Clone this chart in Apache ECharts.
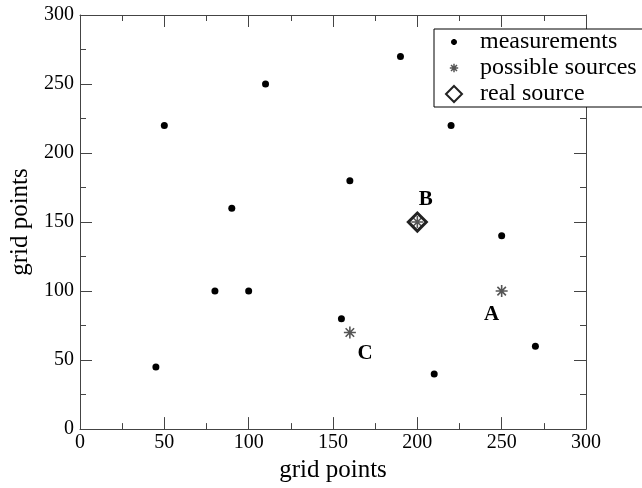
<!DOCTYPE html>
<html>
<head>
<meta charset="utf-8">
<script src="https://cdn.jsdelivr.net/npm/echarts@6/dist/echarts.min.js"></script>
<style>html,body{margin:0;padding:0;background:#fff}#c{width:642px;height:488px}</style>
</head>
<body>
<div id="c"></div>
<script>
// ---- data ----
const measX = [45, 50, 80, 90, 100, 110, 155, 160, 190, 210, 220, 250, 270];
const measY = [45, 220, 100, 160, 100, 250, 80, 180, 270, 40, 220, 140, 60];
const srcX = [250, 160, 200];
const srcY = [100, 70, 150];
const realX = [200];
const realY = [150];
const labelNames = ['A', 'B', 'C'];
const labelX = [244, 205, 169];
const labelY = [83, 166, 55];
const seriesNames = ['measurements', 'possible sources', 'real source'];
const xTicks = [0, 50, 100, 150, 200, 250, 300];
const yTicks = [0, 50, 100, 150, 200, 250, 300];

// ---- symbol shapes ----
function asterisk(r, w, cx, cy) {
  let d = '';
  for (let k = 0; k < 4; k++) {
    const a = k * Math.PI / 4, cs = Math.cos(a), sn = Math.sin(a);
    const pts = [[r, w], [r, -w], [-r, -w], [-r, w]].map(([u, v]) =>
      [(cx + u * cs - v * sn).toFixed(2), (cy + u * sn + v * cs).toFixed(2)]);
    d += 'M' + pts[0].join(',') + ' L' + pts[1].join(',') + ' L' + pts[2].join(',') + ' L' + pts[3].join(',') + ' Z ';
  }
  return d;
}
function disc(r, cx, cy) {
  let d = '';
  for (let k = 0; k < 24; k++) {
    const a = k * 2 * Math.PI / 24;
    d += (k ? ' L' : 'M') + (cx + r * Math.cos(a)).toFixed(2) + ',' + (cy + r * Math.sin(a)).toFixed(2);
  }
  return d + ' Z';
}
// legend icon box 38x20, glyph centred at (19,10)
const starSym = 'path://' + asterisk(6, 0.8, 6, 6);
const starIcon = 'path://M0,0 M38,20 ' + asterisk(4.2, 0.75, 19, 10);
const dotIcon = 'path://M0,0 M38,20 ' + disc(3, 19, 10);
const diamondIcon = 'path://M0,0 M38,20 M19,2 L27,10 L19,18 L11,10 Z';

const serif = '"Liberation Serif", "DejaVu Serif", serif';
const frame = '#444';

function axisCommon(show) {
  return {
    type: 'value', min: 0, max: 300, interval: 50,
    axisLine: { show: true, onZero: false, lineStyle: { color: frame, width: 1 } },
    axisTick: { show: true, inside: true, length: 12, lineStyle: { color: frame } },
    minorTick: { show: true, splitNumber: 2, length: 6, lineStyle: { color: frame } },
    splitLine: { show: false },
    axisLabel: { show: show, color: '#000', fontFamily: serif, fontSize: 20 }
  };
}

const chart = echarts.init(document.getElementById('c'), null, { renderer: 'canvas' });
chart.setOption({
  animation: false,
  backgroundColor: '#fff',
  grid: { left: 80, right: 56, top: 15, bottom: 53, containLabel: false },
  xAxis: [
    Object.assign(axisCommon(true), {
      position: 'bottom',
      name: 'grid points', nameLocation: 'middle', nameGap: 26,
      nameTextStyle: { color: '#000', fontFamily: serif, fontSize: 25 },
      axisLabel: { color: '#000', fontFamily: serif, fontSize: 20, margin: 4,
        formatter: v => xTicks.includes(v) ? String(v) : '' }
    }),
    Object.assign(axisCommon(false), { position: 'top' })
  ],
  yAxis: [
    Object.assign(axisCommon(true), {
      position: 'left',
      name: 'grid points', nameLocation: 'middle', nameGap: 44,
      nameTextStyle: { color: '#000', fontFamily: serif, fontSize: 25 },
      axisLabel: { color: '#000', fontFamily: serif, fontSize: 20, margin: 6,
        formatter: v => yTicks.includes(v) ? String(v) : '' }
    }),
    Object.assign(axisCommon(false), { position: 'right' })
  ],
  legend: {
    orient: 'vertical', left: 434, top: 29,
    padding: [0, 20, 0, 0],
    itemWidth: 38, itemHeight: 20, itemGap: 0,
    backgroundColor: '#fff', borderColor: '#000', borderWidth: 1, borderRadius: 0,
    textStyle: { color: '#000', fontFamily: serif, fontSize: 24, lineHeight: 26, padding: [0, 0, 0, 2] },
    data: [
      { name: seriesNames[0], icon: dotIcon },
      { name: seriesNames[1], icon: starIcon },
      { name: seriesNames[2], icon: diamondIcon }
    ]
  },
  series: [
    {
      name: seriesNames[0], type: 'scatter', symbol: 'circle', symbolSize: 7,
      itemStyle: { color: '#000', opacity: 1 },
      data: measX.map((x, i) => [x, measY[i]])
    },
    {
      name: seriesNames[1], type: 'scatter', symbol: starSym, symbolSize: 12,
      itemStyle: { color: '#555', opacity: 1 },
      data: srcX.map((x, i) => [x, srcY[i]])
    },
    {
      name: seriesNames[2], type: 'scatter', symbol: 'diamond', symbolSize: 18,
      itemStyle: { color: 'rgba(255,255,255,0)', borderColor: '#222', borderWidth: 3, opacity: 1 },
      data: realX.map((x, i) => [x, realY[i]])
    },
    {
      name: 'labels', type: 'scatter', symbolSize: 0, silent: true,
      itemStyle: { opacity: 1 },
      label: { show: true, position: 'inside', formatter: '{b}', color: '#000', opacity: 1,
        fontFamily: serif, fontWeight: 'bold', fontSize: 21 },
      data: labelNames.map((n, i) => ({ name: n, value: [labelX[i], labelY[i]] }))
    }
  ]
});
</script>
</body>
</html>
